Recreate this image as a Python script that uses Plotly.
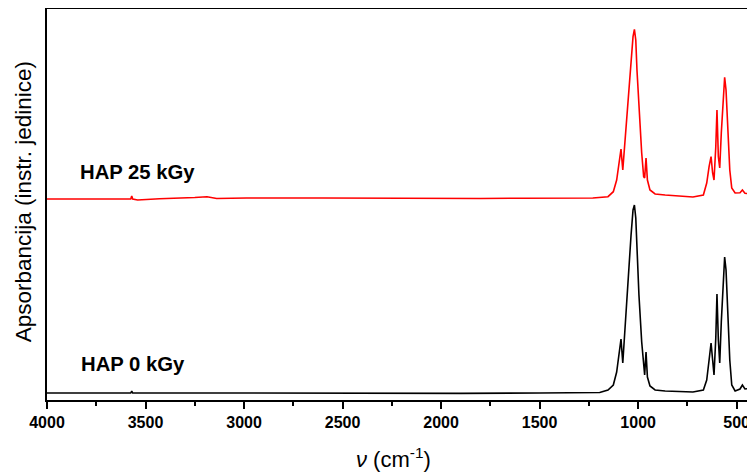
import plotly.graph_objects as go

# ---- data (wavenumber in cm^-1, absorbance in arbitrary units, curves stacked) ----
wn_0kGy = [4000, 3600, 3575, 3570, 3565, 3000, 2500, 2350, 2100, 2000, 1900, 1500, 1300, 1195,
           1153, 1126, 1109, 1097, 1087, 1078, 1067, 1050, 1036, 1026, 1019, 1012, 1006, 996, 982,
           972, 967, 960, 953, 940, 914, 863, 722, 669, 652, 640, 630, 622, 615, 606, 600, 593,
           586, 578, 569, 561, 554, 546, 535, 525, 508, 483, 471, 458, 408]
abs_0kGy = [0.07, 0.07, 0.07, 0.09, 0.07, 0.07, 0.065, 0.07, 0.063, 0.063, 0.066, 0.07, 0.07, 0.075,
            0.10, 0.15, 0.28, 0.45, 0.61, 0.37, 0.72, 1.25, 1.65, 1.90, 1.95, 1.82, 1.50, 1.05, 0.58,
            0.30, 0.25, 0.48, 0.23, 0.14, 0.10, 0.09, 0.08, 0.10, 0.20, 0.40, 0.57, 0.40, 0.25, 0.62,
            1.06, 0.60, 0.37, 0.78, 1.15, 1.43, 1.30, 0.90, 0.40, 0.15, 0.09, 0.11, 0.15, 0.11, 0.12]

wn_25kGy = [4000, 3600, 3575, 3570, 3565, 3540, 3429, 3250, 3188, 3139, 2987, 2600, 2300, 2100,
            2000, 1800, 1600, 1400, 1230, 1153, 1126, 1109, 1097, 1087, 1078, 1067, 1050, 1036,
            1026, 1019, 1012, 1006, 996, 982, 972, 967, 960, 953, 940, 914, 863, 722, 669, 652,
            640, 630, 622, 615, 606, 600, 593, 586, 578, 569, 561, 554, 546, 535, 525, 508, 483,
            471, 458, 408]
abs_25kGy = [2.01, 2.01, 2.01, 2.04, 2.01, 2.00, 2.013, 2.025, 2.033, 2.015, 2.02, 2.02, 2.017, 2.012,
             2.01, 2.015, 2.018, 2.02, 2.02, 2.033, 2.083, 2.20, 2.37, 2.51, 2.30, 2.60, 3.033, 3.40,
             3.633, 3.707, 3.60, 3.30, 2.90, 2.47, 2.233, 2.22, 2.42, 2.20, 2.10, 2.06, 2.05, 2.03,
             2.05, 2.17, 2.333, 2.433, 2.27, 2.20, 2.533, 2.90, 2.433, 2.32, 2.67, 3.00, 3.227, 3.10,
             2.733, 2.30, 2.12, 2.07, 2.073, 2.10, 2.067, 2.06]

tick_vals = [4000, 3500, 3000, 2500, 2000, 1500, 1000, 500]
label_25 = "HAP 25 kGy"
label_0 = "HAP 0 kGy"
x_title = "<i>ν</i> (cm<sup>-1</sup>)"
y_title = "Apsorbancija (instr. jedinice)"

FONT = "Arial, Liberation Sans, sans-serif"

fig = go.Figure()
fig.add_trace(go.Scatter(x=wn_0kGy, y=abs_0kGy, mode="lines", name=label_0,
                         line=dict(color="black", width=1.6)))
fig.add_trace(go.Scatter(x=wn_25kGy, y=abs_25kGy, mode="lines", name=label_25,
                         line=dict(color="#ff0000", width=1.6)))

# curve labels
fig.add_annotation(x=0.0438, y=0.583, xref="paper", yref="paper", text="<b>" + label_25 + "</b>",
                   showarrow=False, xanchor="left", yanchor="middle",
                   font=dict(family=FONT, size=20.3, color="black"))
fig.add_annotation(x=0.0452, y=0.092, xref="paper", yref="paper", text="<b>" + label_0 + "</b>",
                   showarrow=False, xanchor="left", yanchor="middle",
                   font=dict(family=FONT, size=20.3, color="black"))
# axis titles
fig.add_annotation(x=0.490, y=-0.148, xref="paper", yref="paper", text=x_title,
                   showarrow=False, xanchor="center", yanchor="middle",
                   font=dict(family=FONT, size=22, color="black"))
fig.add_annotation(x=-0.0339, y=0.508, xref="paper", yref="paper", text=y_title,
                   showarrow=False, xanchor="center", yanchor="middle", textangle=-90,
                   font=dict(family=FONT, size=22.5, color="black"))

# the page adds an 8 px body margin, so the figure is sized to end at the window edge
fig.update_layout(
    width=747, height=464,
    margin=dict(l=39, r=0, t=1, b=72, autoexpand=False),
    paper_bgcolor="white", plot_bgcolor="white",
    showlegend=False,
    font=dict(family=FONT, color="black"),
)
fig.update_xaxes(
    range=[4000, 407], tickvals=tick_vals, automargin=False,
    ticks="outside", ticklen=7, tickwidth=2, tickcolor="black",
    minor=dict(dtick=250, tick0=0, ticks="outside", ticklen=4, tickwidth=2, tickcolor="black"),
    tickfont=dict(size=16, weight="bold", family=FONT),
    showline=True, linewidth=2, linecolor="black", mirror=True,
    showgrid=False, zeroline=False,
)
fig.update_yaxes(
    range=[0, 3.91], showticklabels=False, ticks="", automargin=False,
    showline=True, linewidth=2, linecolor="black", mirror=True,
    showgrid=False, zeroline=False,
)

fig.write_html("out.html")
